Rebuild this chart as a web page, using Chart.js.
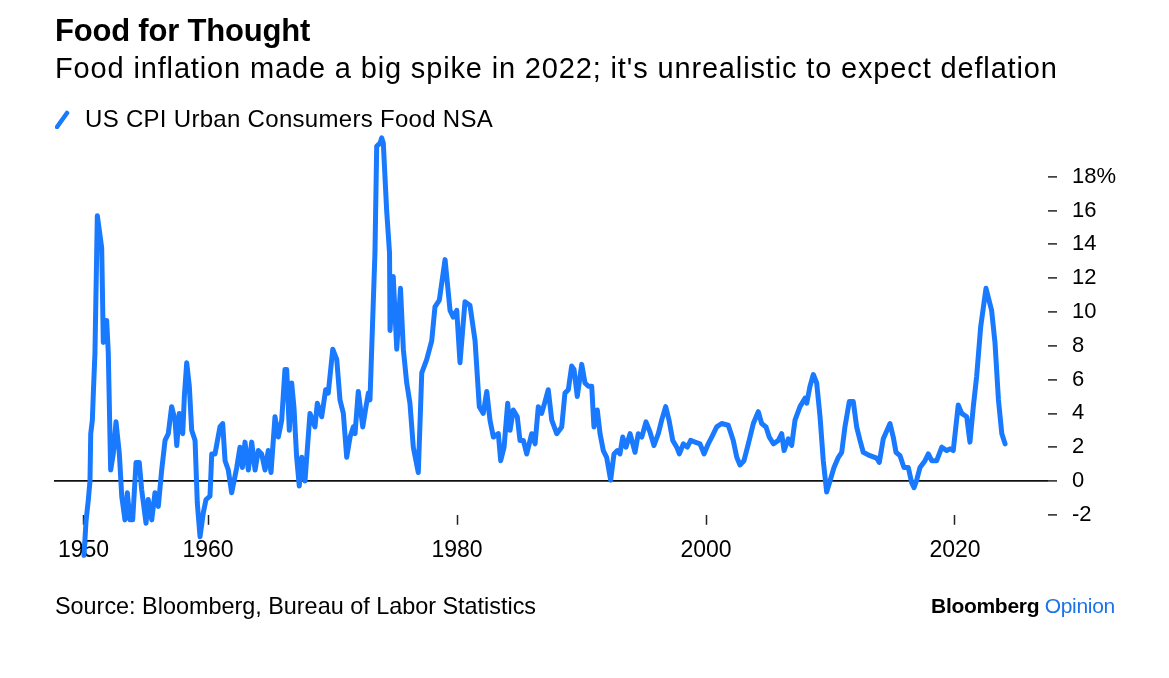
<!DOCTYPE html>
<html>
<head>
<meta charset="utf-8">
<script src="https://cdn.jsdelivr.net/npm/chart.js@4"></script>
<style>
  body { margin: 0; background: #fff; font-family: "Liberation Sans", Arial, sans-serif; color: #000; }
  #wrap { position: relative; width: 1169px; height: 678px; overflow: hidden; }
  #chart { position: absolute; left: 0; top: 0; }
  .txt { position: absolute; white-space: nowrap; line-height: 1; }
  #title { left: 55px; top: 15px; font-size: 31px; font-weight: bold; letter-spacing: -0.2px; }
  #subtitle { left: 55px; top: 54px; font-size: 29px; letter-spacing: 0.85px; }
  #legend { left: 55px; top: 107px; font-size: 24px; letter-spacing: 0.3px; }
  #legend svg { position: absolute; left: 0; top: 2px; }
  #legend span { margin-left: 30px; }
  #source { left: 55px; top: 595px; font-size: 23.4px; }
  #brand { right: 54px; top: 595px; font-size: 21px; font-weight: bold; letter-spacing: -0.3px; }
  #brand b { color: #1a73e8; font-weight: normal; }
</style>
</head>
<body>
<div id="wrap">
  <canvas id="chart" width="1169" height="678"></canvas>
  <div class="txt" id="title">Food for Thought</div>
  <div class="txt" id="subtitle">Food inflation made a big spike in 2022; it's unrealistic to expect deflation</div>
  <div class="txt" id="legend"><svg width="16" height="20"><line x1="2" y1="18" x2="12" y2="4" stroke="#1a7aff" stroke-width="4.5" stroke-linecap="round"/></svg><span>US CPI Urban Consumers Food NSA</span></div>
  <div class="txt" id="source">Source: Bloomberg, Bureau of Labor Statistics</div>
  <div class="txt" id="brand">Bloomberg <b>Opinion</b></div>
</div>
<script>
// US CPI Urban Consumers Food NSA, year-over-year %
const years = [
  1950.04, 1950.2, 1950.39, 1950.52, 1950.58, 1950.71, 1950.79, 1950.92, 1951.11, 1951.46,
  1951.59, 1951.86, 1951.99, 1952.18, 1952.39, 1952.61, 1952.88, 1953.07, 1953.33, 1953.52,
  1953.73, 1953.95, 1954.22, 1954.48, 1954.67, 1955.02, 1955.2, 1955.48, 1955.74, 1956.01,
  1956.28, 1956.55, 1956.81, 1957.08, 1957.35, 1957.49, 1957.69, 1957.97, 1958.1, 1958.29,
  1958.5, 1958.69, 1958.96, 1959.14, 1959.36, 1959.62, 1959.84, 1960.16, 1960.3, 1960.56,
  1960.96, 1961.18, 1961.37, 1961.63, 1961.9, 1962.09, 1962.31, 1962.57, 1962.76, 1962.97,
  1963.24, 1963.51, 1963.78, 1964.04, 1964.31, 1964.58, 1964.84, 1965.06, 1965.38, 1965.65,
  1965.92, 1966.18, 1966.32, 1966.53, 1966.72, 1966.91, 1967.12, 1967.33, 1967.53, 1967.79,
  1968.19, 1968.59, 1968.78, 1969.13, 1969.45, 1969.66, 1970.02, 1970.34, 1970.6, 1970.87,
  1971.14, 1971.41, 1971.67, 1971.81, 1972.07, 1972.43, 1972.69, 1972.88, 1973.01, 1973.41,
  1973.55, 1973.82, 1973.95, 1974.08, 1974.35, 1974.58, 1974.62, 1974.88, 1975.16, 1975.46,
  1975.69, 1975.96, 1976.22, 1976.49, 1976.89, 1977.17, 1977.57, 1977.97, 1978.23, 1978.58,
  1979.04, 1979.44, 1979.7, 1979.98, 1980.24, 1980.64, 1981.04, 1981.45, 1981.79, 1982.11,
  1982.39, 1982.65, 1982.92, 1983.32, 1983.51, 1983.78, 1984.07, 1984.26, 1984.52, 1984.84,
  1985.06, 1985.33, 1985.6, 1986.0, 1986.27, 1986.53, 1986.8, 1987.07, 1987.33, 1987.61,
  1988.01, 1988.41, 1988.67, 1988.94, 1989.21, 1989.4, 1989.66, 1990.02, 1990.28, 1990.55,
  1990.82, 1991.0, 1991.27, 1991.49, 1991.75, 1992.02, 1992.34, 1992.61, 1992.88, 1993.09,
  1993.31, 1993.57, 1993.9, 1994.3, 1994.56, 1994.84, 1995.18, 1995.5, 1995.82, 1996.17,
  1996.44, 1996.76, 1997.03, 1997.33, 1997.65, 1997.86, 1998.18, 1998.5, 1998.77, 1999.12,
  1999.52, 1999.84, 2000.18, 2000.46, 2000.86, 2001.26, 2001.79, 2002.19, 2002.47, 2002.73,
  2003.05, 2003.4, 2003.8, 2004.2, 2004.47, 2004.82, 2005.08, 2005.41, 2005.81, 2006.08,
  2006.27, 2006.61, 2006.88, 2007.15, 2007.55, 2007.95, 2008.09, 2008.35, 2008.62, 2008.89,
  2009.16, 2009.42, 2009.69, 2009.96, 2010.28, 2010.63, 2010.9, 2011.16, 2011.51, 2011.83,
  2012.1, 2012.37, 2012.63, 2013.17, 2013.71, 2013.92, 2014.24, 2014.78, 2015.04, 2015.26,
  2015.58, 2015.9, 2016.25, 2016.52, 2016.71, 2016.92, 2017.19, 2017.59, 2017.86, 2018.13,
  2018.53, 2018.94, 2019.34, 2019.6, 2019.86, 2020.26, 2020.54, 2020.94, 2021.2, 2021.47,
  2021.74, 2022.06, 2022.49, 2022.94, 2023.21, 2023.49, 2023.76, 2024.02
];
const foodCpi = [
  -4.4, -2.4, -1.1, 0, 2.8, 3.6, 5.2, 7.6, 15.7, 13.8,
  8.2, 9.5, 7.6, 0.65, 1.6, 3.5, 1.6, -0.9, -2.3, -0.7,
  -2.3, -2.3, 1.1, 1.1, -0.5, -2.5, -1.1, -2.3, -0.7, -1.5,
  0.65, 2.4, 2.8, 4.4, 3.6, 2.1, 4.0, 2.8, 5.0, 7.0,
  5.6, 3.0, 2.4, -1.3, -3.3, -1.9, -1.1, -0.9, 1.6, 1.6,
  3.2, 3.4, 1.2, 0.65, -0.7, 0, 0.8, 2.0, 0.8, 2.3,
  0.65, 2.3, 0.65, 1.8, 1.6, 0.65, 1.8, 0.5, 3.8, 2.6,
  3.6, 6.6, 6.6, 3.0, 5.8, 4.3, 1.4, -0.3, 1.4, 0,
  4.0, 3.2, 4.6, 3.8, 5.4, 5.2, 7.8, 7.2, 4.8, 4.0,
  1.4, 2.6, 3.2, 2.8, 5.3, 3.2, 4.4, 5.2, 4.8, 13.5,
  19.8, 20.0, 20.3, 20.0, 16.0, 13.5, 8.9, 12.1, 7.8, 11.4,
  7.8, 5.8, 4.6, 2.0, 0.5, 6.4, 7.2, 8.3, 10.3, 10.7,
  13.1, 10.1, 9.7, 10.1, 7.0, 10.6, 10.4, 8.3, 4.4, 4.0,
  5.3, 3.6, 2.6, 2.8, 1.2, 2.0, 4.6, 3.0, 4.2, 3.8,
  2.4, 2.4, 1.6, 2.8, 2.2, 4.4, 4.0, 4.7, 5.4, 3.6,
  2.8, 3.2, 5.2, 5.4, 6.8, 6.6, 5.0, 6.9, 5.8, 5.6,
  5.6, 3.2, 4.2, 2.8, 1.8, 1.4, 0.05, 1.6, 1.8, 1.6,
  2.6, 2.0, 2.8, 1.7, 2.8, 2.6, 3.5, 2.9, 2.1, 2.8,
  3.6, 4.4, 3.6, 2.4, 2.0, 1.6, 2.2, 2.0, 2.4, 2.3,
  2.2, 1.6, 2.2, 2.6, 3.2, 3.4, 3.3, 2.4, 1.4, 0.95,
  1.2, 2.2, 3.4, 4.1, 3.4, 3.2, 2.6, 2.2, 2.4, 2.8,
  1.8, 2.5, 2.1, 3.6, 4.4, 4.9, 4.6, 5.6, 6.3, 5.8,
  3.8, 1.2, -0.65, 0, 0.8, 1.4, 1.7, 3.2, 4.7, 4.7,
  3.2, 2.4, 1.7, 1.5, 1.35, 1.1, 2.5, 3.4, 2.6, 1.7,
  1.5, 0.8, 0.8, -0.1, -0.4, 0.05, 0.8, 1.2, 1.6, 1.2,
  1.2, 2.0, 1.8, 1.9, 1.8, 4.5, 4.0, 3.8, 2.3, 4.4,
  6.2, 9.1, 11.4, 10.1, 8.2, 4.8, 2.8, 2.2
];
const xTicks = [1950, 1960, 1980, 2000, 2020];
const yTicks = [-2, 0, 2, 4, 6, 8, 10, 12, 14, 16, 18];

const lineBlue = '#1a7aff';
const fontFamily = '"Liberation Sans", Arial, sans-serif';

const points = years.map((yr, i) => ({ x: yr, y: foodCpi[i] }));

new Chart(document.getElementById('chart').getContext('2d'), {
    type: 'line',
    data: {
        datasets: [{
            label: 'US CPI Urban Consumers Food NSA',
            data: points,
            borderColor: lineBlue,
            borderWidth: 5,
            borderJoinStyle: 'round',
            borderCapStyle: 'round',
            pointRadius: 0,
            tension: 0,
            clip: false
        }]
    },
    options: {
        responsive: false,
        animation: false,
        layout: { padding: { left: 54, top: 176.8, right: 0, bottom: 0 } },
        plugins: { legend: { display: false }, title: { display: false }, tooltip: { enabled: false } },
        scales: {
            x: {
                type: 'linear',
                min: 1947.63,
                max: 2027.47,
                afterBuildTicks: (scale) => { scale.ticks = xTicks.map(v => ({ value: v })); },
                afterFit: (scale) => { scale.height = 678 - 514.8; },
                border: { display: false },
                grid: { drawOnChartArea: false, tickLength: 10, tickColor: '#222', tickWidth: 1.5 },
                ticks: {
                    callback: (v) => String(v),
                    color: '#000',
                    font: { family: fontFamily, size: 23 },
                    padding: 12,
                    maxRotation: 0,
                    autoSkip: false
                }
            },
            y: {
                position: 'right',
                min: -2,
                max: 18,
                afterBuildTicks: (scale) => { scale.ticks = yTicks.map(v => ({ value: v })); },
                afterFit: (scale) => { scale.width = 1169 - 1048; },
                border: { display: false },
                grid: {
                    color: (ctx) => ctx.tick && ctx.tick.value === 0 ? '#111' : 'rgba(0,0,0,0)',
                    lineWidth: 1.8,
                    tickLength: 9,
                    tickColor: '#222',
                    tickWidth: 1.5
                },
                ticks: {
                    callback: (v) => v === 18 ? '18%' : String(v),
                    color: '#000',
                    font: { family: fontFamily, size: 22 },
                    padding: 15
                }
            }
        }
    }
});
</script>
</body>
</html>
